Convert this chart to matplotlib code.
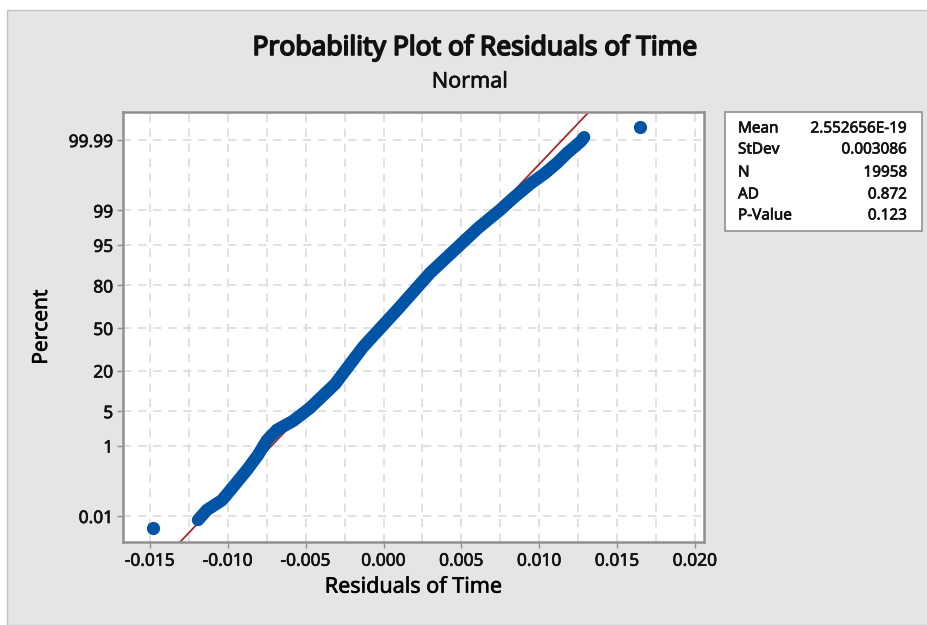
import numpy as np
import matplotlib
matplotlib.use("Agg")
import matplotlib.pyplot as plt
import matplotlib.patheffects as pe
from matplotlib.patches import Rectangle
from statistics import NormalDist

# residuals read along the plotted band and their percent positions
residual = [-0.01191, -0.01134, -0.01037, -0.00967, -0.00877, -0.00806,
            -0.00748, -0.00684, -0.00581, -0.00472, -0.00311, -0.00132,
            0.00087, 0.00299, 0.00607, 0.00748, 0.00832, 0.00941,
            0.01037, 0.01114, 0.01179, 0.01268, 0.01288]
percent = [0.0073, 0.016, 0.033, 0.083, 0.25, 0.60,
           1.33, 2.2, 3.3, 5.7, 13.4, 35.3,
           63.9, 86.2, 97.6, 99.02, 99.49, 99.78,
           99.89, 99.945, 99.973, 99.989, 99.992]

# extreme single points
out_residual = [-0.01478, 0.01644]
out_percent = [0.0037, 99.9966]

# summary table
mean = 2.552656e-19
stdev = 0.003086
stat_names = ["Mean", "StDev", "N", "AD", "P-Value"]
stat_values = ["2.552656E-19", "0.003086", "19958", "0.872", "0.123"]

yticks = [0.01, 1, 5, 20, 50, 80, 95, 99, 99.99]
yticklabels = ["0.01", "1", "5", "20", "50", "80", "95", "99", "99.99"]
xticks = [-0.015, -0.010, -0.005, 0.000, 0.005, 0.010, 0.015, 0.020]

nd = NormalDist()
def zval(p):
  return np.array([nd.inv_cdf(v / 100.0) for v in p])

plt.rcParams['font.family'] = ['Noto Sans', 'DejaVu Sans']
plt.rcParams['text.color'] = '#111111'

# slightly heavier strokes for all text
thin = [pe.withStroke(linewidth=0.45, foreground='#111111')]
thick = [pe.withStroke(linewidth=1.2, foreground='#111111')]

W, H = 928, 625
fig = plt.figure(figsize=(W / 100, H / 100), dpi=100, facecolor='white')

# gray panel behind the chart
fig.patches.append(Rectangle((7 / W, 0), 1 - 7 / W, (H - 10) / H,
                             transform=fig.transFigure, facecolor='#e5e5e5',
                             edgecolor='#c4c4c4', lw=1, zorder=-10))

ax = fig.add_axes([123 / W, 1 - 542 / H, 581 / W, 430 / H])
ax.set_facecolor('white')

# fitted normal line
zl = np.array([-4.5, 4.5])
ax.plot(mean + stdev * zl, zl, color='#a52a2a', lw=1.3, zorder=2)

# data band and outliers
ax.plot(residual, zval(percent), color='#0054a6', lw=9.0,
        solid_capstyle='round', solid_joinstyle='round', zorder=3)
ax.plot(out_residual, zval(out_percent), 'o', color='#0054a6',
        markersize=8.5, zorder=3)

ax.set_xlim(-0.01673, 0.02058)
ax.set_ylim(-4.233, 4.273)

ax.set_xticks(xticks)
ax.set_xticklabels(["%.3f" % v for v in xticks])
ax.set_xticks(np.arange(-0.0125, 0.020, 0.005), minor=True)
ax.set_yticks(zval(yticks))
ax.set_yticklabels(yticklabels)

ax.grid(True, which='both', axis='x', color='#dcdcdc', lw=1.2,
        linestyle=(0, (5, 4)), zorder=0)
ax.grid(True, which='major', axis='y', color='#dcdcdc', lw=1.2,
        linestyle=(0, (5, 4)), zorder=0)
ax.set_axisbelow(True)

for s in ax.spines.values():
  s.set_color('#909090')
  s.set_linewidth(1.8)
ax.tick_params(which='major', length=4, width=1, color='#909090',
               labelsize=12.5, pad=3, labelcolor='#111111')
ax.tick_params(which='minor', length=0)
for lab in ax.get_xticklabels() + ax.get_yticklabels():
  lab.set_path_effects(thin)

ax.set_xlabel("Residuals of Time", fontsize=15.5, labelpad=5, path_effects=thin)
ax.set_ylabel("Percent", fontsize=15, labelpad=12, path_effects=thin)

fig.text(475 / W, 1 - 48 / H, "Probability Plot of Residuals of Time",
         ha='center', va='center', fontsize=19, path_effects=thick)
fig.text(470 / W, 1 - 82 / H, "Normal", ha='center', va='center',
         fontsize=15.5, path_effects=thin)

# statistics box
fig.patches.append(Rectangle((725 / W, 1 - 231 / H), 197 / W, 119 / H,
                             transform=fig.transFigure, facecolor='white',
                             edgecolor='#909090', lw=1.2))
rows_y = [129, 150, 173, 195, 216]
for name, val, yy in zip(stat_names, stat_values, rows_y):
  fig.text(738 / W, 1 - yy / H, name, ha='left', va='center', fontsize=11,
           path_effects=thin)
  fig.text(907 / W, 1 - yy / H, val, ha='right', va='center', fontsize=11,
           path_effects=thin)

plt.savefig('out.png', dpi=100)
